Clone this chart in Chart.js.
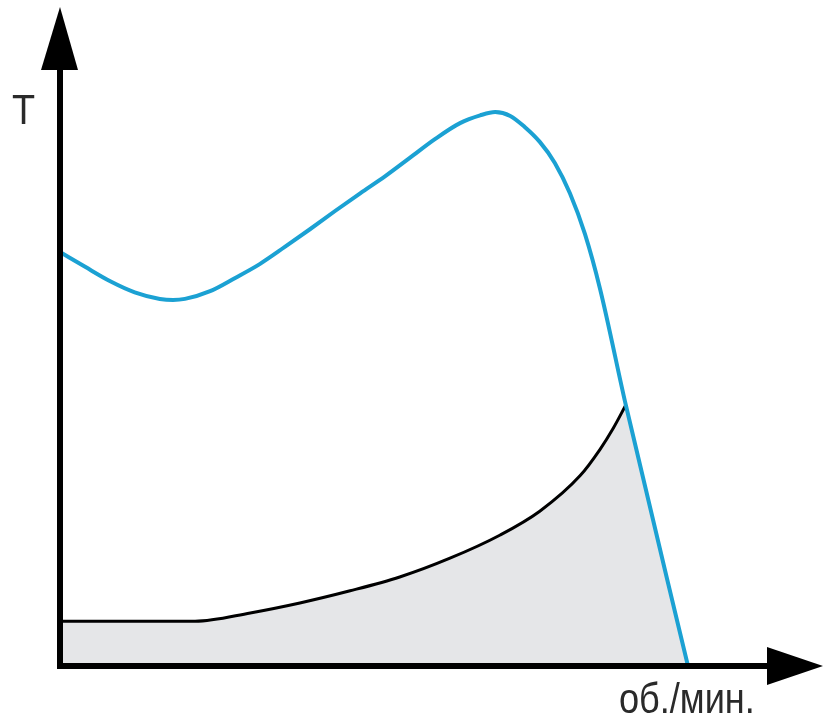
<!DOCTYPE html>
<html>
<head>
<meta charset="utf-8">
<script src="https://cdn.jsdelivr.net/npm/chart.js@4"></script>
<style>
  html, body { margin: 0; padding: 0; background: #fff; }
  canvas { display: block; }
</style>
</head>
<body>
<canvas id="torqueChart" width="826" height="718"></canvas>
<script>
// speed (x) and torque (y), relative units
const motorSpeed = [0, 4.0, 8.0, 11.9, 15.9, 18.0, 19.9, 23.9, 27.9, 31.8, 35.8, 39.8, 43.8, 47.8, 51.8, 55.7, 59.7, 63.7, 66.9, 69.3, 71.7, 74.0, 76.4, 78.8, 81.2, 83.6, 86.0, 90.1, 100];
const motorTorque = [74.9, 72.2, 69.6, 67.6, 66.4, 66.2, 66.4, 67.8, 70.2, 72.7, 75.8, 79.0, 82.3, 85.5, 88.6, 91.9, 95.3, 98.2, 99.6, 100.2, 99.5, 97.5, 94.8, 91.0, 85.5, 78.1, 68.2, 47.2, 0];

const loadSpeed = [0, 21.5, 30.3, 38.2, 46.2, 54.1, 62.1, 70.1, 76.4, 82.8, 86.0, 88.1, 90.1];
const loadTorque = [8.1, 8.1, 9.6, 11.4, 13.6, 16.1, 19.5, 23.7, 28.0, 34.4, 39.2, 43.0, 47.2];

// shaded wedge between the operating point and the zero-torque speed,
// started a little under the load curve so the two fills overlap
const wedgeSpeed = [88.1, 90.1, 100];
const wedgeTorque = [42.5, 47.2, 0];

const xLabel = 'об./мин.';
const yLabel = 'T';

const toPoints = (xs, ys) => xs.map((x, i) => ({ x, y: ys[i] }));

const axesPlugin = {
  id: 'arrowAxes',
  afterDatasetsDraw(chart) {
    const { ctx, scales: { x, y } } = chart;
    const x0 = x.getPixelForValue(0);
    const y0 = y.getPixelForValue(0);
    const top = chart.chartArea.top;
    const right = chart.chartArea.right;
    ctx.save();
    ctx.fillStyle = '#000';
    ctx.strokeStyle = '#000';
    ctx.lineWidth = 6;
    ctx.lineCap = 'butt';
    // y axis
    ctx.beginPath();
    ctx.moveTo(x0, y0 + 3);
    ctx.lineTo(x0, top + 60);
    ctx.stroke();
    ctx.beginPath();
    ctx.moveTo(x0, top);
    ctx.lineTo(x0 - 19, top + 63);
    ctx.lineTo(x0 + 18, top + 63);
    ctx.closePath();
    ctx.fill();
    // x axis
    ctx.beginPath();
    ctx.moveTo(x0 - 3, y0);
    ctx.lineTo(right - 50, y0);
    ctx.stroke();
    ctx.beginPath();
    ctx.moveTo(right, y0);
    ctx.lineTo(right - 56, y0 - 19);
    ctx.lineTo(right - 56, y0 + 19);
    ctx.closePath();
    ctx.fill();
    // labels
    ctx.fillStyle = '#2a2a2a';
    ctx.textBaseline = 'alphabetic';
    ctx.textAlign = 'left';
    ctx.font = '42px "Liberation Sans", Arial, sans-serif';
    ctx.save();
    ctx.translate(12, 124);
    ctx.scale(0.9, 1);
    ctx.fillText(yLabel, 0, 0);
    ctx.restore();
    ctx.save();
    ctx.translate(619, 713);
    ctx.scale(0.86, 1);
    ctx.fillText(xLabel, 0, 0);
    ctx.restore();
    ctx.restore();
  }
};

new Chart(document.getElementById('torqueChart'), {
  type: 'line',
  data: {
    datasets: [
      {
        label: 'motor',
        data: toPoints(motorSpeed, motorTorque),
        borderColor: '#1ba1d3',
        borderWidth: 4,
        fill: false,
        cubicInterpolationMode: 'monotone',
        pointRadius: 0,
        order: 1
      },
      {
        label: 'load',
        data: toPoints(loadSpeed, loadTorque),
        borderColor: '#000',
        borderWidth: 3,
        backgroundColor: '#e5e6e8',
        fill: 'origin',
        cubicInterpolationMode: 'monotone',
        pointRadius: 0,
        order: 2
      },
      {
        label: 'wedge',
        data: toPoints(wedgeSpeed, wedgeTorque),
        borderWidth: 0,
        borderColor: 'rgba(0,0,0,0)',
        backgroundColor: '#e5e6e8',
        fill: 'origin',
        tension: 0,
        pointRadius: 0,
        order: 3
      }
    ]
  },
  options: {
    responsive: false,
    animation: false,
    layout: { padding: { left: 60, top: 7, right: 3, bottom: 52 } },
    plugins: { legend: { display: false }, tooltip: { enabled: false } },
    scales: {
      x: { type: 'linear', display: false, min: 0, max: 121.5 },
      y: { type: 'linear', display: false, min: 0, max: 119.2 }
    }
  },
  plugins: [axesPlugin]
});
</script>
</body>
</html>
